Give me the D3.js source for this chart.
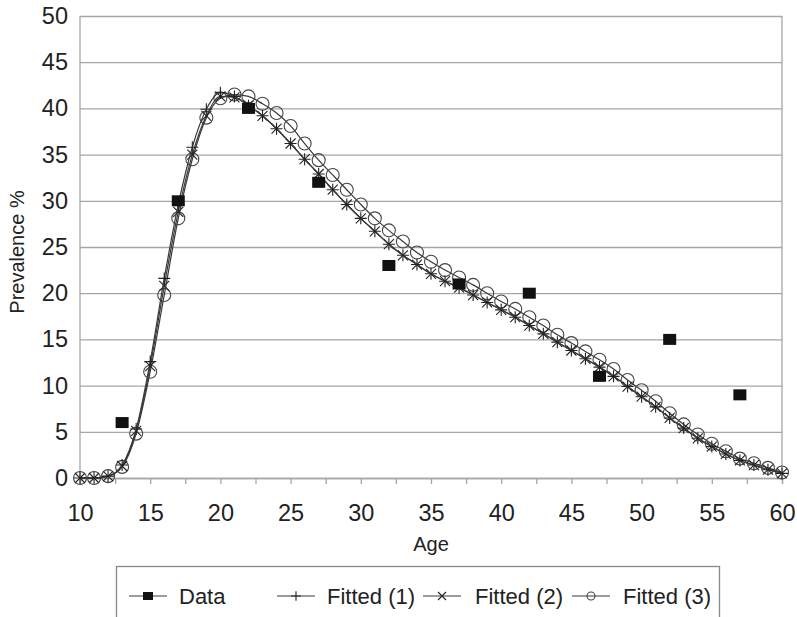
<!DOCTYPE html>
<html>
<head>
<meta charset="utf-8">
<script src="https://cdn.jsdelivr.net/npm/d3@7"></script>
<style>
  body { margin: 0; background: #fff; }
  svg { font-family: "Liberation Sans", Arial, sans-serif; }
</style>
</head>
<body>
<div id="vis"></div>
<script>
// setting up the basics
const FRAME_WIDTH = 797;
const FRAME_HEIGHT = 617;
const PLOT = {left: 80, right: 782, top: 16, bottom: 478};

// data
const AGES = d3.range(10, 61);
const DATA_AGES = [13, 17, 22, 27, 32, 37, 42, 47, 52, 57];
const DATA_VALUES = [6, 30, 40, 32, 23, 21, 20, 11, 15, 9];
const FITTED_1 = [0, 0, 0.2, 1.4, 5.3, 12.6, 21.6, 29.6, 35.8, 39.9, 41.7, 41.3, 40.3,
  39.2, 37.8, 36.2, 34.5, 32.9, 31.2, 29.6, 28.1, 26.7, 25.3, 24.1, 23.1, 22.1, 21.3,
  20.6, 19.8, 19.0, 18.2, 17.4, 16.5, 15.6, 14.7, 13.8, 12.9, 12.0, 11.0, 9.9, 8.8,
  7.7, 6.5, 5.4, 4.3, 3.4, 2.6, 1.9, 1.4, 0.9, 0.5];
const FITTED_2 = [0, 0, 0.2, 1.3, 5.1, 12.1, 20.8, 28.8, 35.0, 39.2, 41.3, 41.2, 40.3,
  39.2, 37.8, 36.2, 34.5, 32.9, 31.2, 29.6, 28.1, 26.7, 25.3, 24.1, 23.1, 22.1, 21.3,
  20.6, 19.8, 19.0, 18.2, 17.4, 16.5, 15.6, 14.7, 13.8, 12.9, 12.0, 11.0, 9.9, 8.8,
  7.7, 6.5, 5.4, 4.3, 3.4, 2.6, 1.9, 1.4, 0.9, 0.5];
const FITTED_3 = [0, 0, 0.2, 1.2, 4.8, 11.5, 19.8, 28.1, 34.5, 39.0, 41.1, 41.5, 41.3,
  40.5, 39.5, 38.1, 36.2, 34.4, 32.8, 31.2, 29.6, 28.1, 26.8, 25.6, 24.4, 23.4, 22.5,
  21.7, 20.9, 20.0, 19.1, 18.3, 17.4, 16.5, 15.5, 14.6, 13.7, 12.8, 11.8, 10.6, 9.5,
  8.3, 7.0, 5.8, 4.7, 3.7, 2.9, 2.1, 1.6, 1.1, 0.6];
const Y_TICKS = d3.range(0, 51, 5);
const X_TICKS = d3.range(10, 60.1, 2.5);
const LEGEND_LABELS = ['Data', 'Fitted (1)', 'Fitted (2)', 'Fitted (3)'];

const FRAME = d3.select('#vis')
  .append('svg')
    .attr('width', FRAME_WIDTH)
    .attr('height', FRAME_HEIGHT);

const X_SCALE = d3.scaleLinear().domain([10, 60]).range([PLOT.left, PLOT.right]);
const Y_SCALE = d3.scaleLinear().domain([0, 50]).range([PLOT.bottom, PLOT.top]);

const GRID = '#a6a6a6';
const LINE = '#3a3a3a';

// horizontal gridlines + y labels
const yAxis = FRAME.append('g')
  .attr('transform', 'translate(' + PLOT.left + ',0)')
  .call(d3.axisLeft(Y_SCALE).tickValues(Y_TICKS).tickSize(-(PLOT.right - PLOT.left)).tickPadding(12));
yAxis.select('.domain').remove();
yAxis.selectAll('line').attr('stroke', GRID).attr('stroke-width', 1.3);
yAxis.selectAll('text').attr('font-size', '23.5px').attr('fill', '#222');

// x axis
const xAxis = FRAME.append('g')
  .attr('transform', 'translate(0,' + PLOT.bottom + ')')
  .call(d3.axisBottom(X_SCALE).tickValues(X_TICKS).tickSize(6).tickPadding(20)
    .tickFormat((d) => (d % 5 === 0 ? d : '')));
xAxis.select('.domain').attr('stroke', GRID).attr('stroke-width', 1.3);
xAxis.selectAll('line').attr('stroke', GRID).attr('stroke-width', 1.3);
xAxis.selectAll('text').attr('font-size', '23.5px').attr('fill', '#222');

// left and right frame lines
FRAME.append('line')
  .attr('x1', PLOT.left).attr('x2', PLOT.left)
  .attr('y1', PLOT.top).attr('y2', PLOT.bottom)
  .attr('stroke', GRID).attr('stroke-width', 1.3);
FRAME.append('line')
  .attr('x1', PLOT.right).attr('x2', PLOT.right)
  .attr('y1', PLOT.top).attr('y2', PLOT.bottom)
  .attr('stroke', GRID).attr('stroke-width', 1.3);

// axis titles
FRAME.append('text')
  .attr('x', (PLOT.left + PLOT.right) / 2).attr('y', 551)
  .attr('text-anchor', 'middle').attr('font-size', '20px').attr('fill', '#222')
  .text('Age');
FRAME.append('text')
  .attr('transform', 'translate(24,' + 252 + ') rotate(-90)')
  .attr('text-anchor', 'middle').attr('font-size', '20px').attr('fill', '#222')
  .text('Prevalence %');

// marker drawing helpers
function drawMarker(g, type, x, y, legend) {
  const s = legend ? 0.8 : 1;
  if (type === 'square') {
    const w = (legend ? 10 : 13), h = (legend ? 8 : 11);
    g.append('rect').attr('x', x - w / 2).attr('y', y - h / 2)
      .attr('width', w).attr('height', h).attr('fill', '#111');
  } else if (type === 'plus') {
    const r = 6 * s;
    g.append('path').attr('d', 'M' + (x - r) + ',' + y + 'H' + (x + r) + 'M' + x + ',' + (y - r) + 'V' + (y + r))
      .attr('stroke', '#222').attr('stroke-width', 1.1).attr('fill', 'none');
  } else if (type === 'cross') {
    const r = 5 * s;
    g.append('path').attr('d', 'M' + (x - r) + ',' + (y - r) + 'L' + (x + r) + ',' + (y + r) +
        'M' + (x - r) + ',' + (y + r) + 'L' + (x + r) + ',' + (y - r))
      .attr('stroke', '#222').attr('stroke-width', 1.1).attr('fill', 'none');
  } else if (type === 'circle') {
    g.append('circle').attr('cx', x).attr('cy', y).attr('r', legend ? 4 : 6.5)
      .attr('stroke', '#444').attr('stroke-width', 1.1).attr('fill', 'none');
  }
}

const lineGen = d3.line()
  .x((d) => X_SCALE(d[0]))
  .y((d) => Y_SCALE(d[1]))
  .curve(d3.curveMonotoneX);

const SERIES = [
  {values: FITTED_3, marker: 'circle'},
  {values: FITTED_2, marker: 'cross'},
  {values: FITTED_1, marker: 'plus'}
];

SERIES.forEach((s) => {
  const pts = AGES.map((a, i) => [a, s.values[i]]);
  const g = FRAME.append('g');
  g.append('path').datum(pts)
    .attr('d', lineGen)
    .attr('fill', 'none').attr('stroke', LINE).attr('stroke-width', 1.2);
  pts.forEach((p) => drawMarker(g, s.marker, X_SCALE(p[0]), Y_SCALE(p[1]), false));
});

// data squares
const dataG = FRAME.append('g');
DATA_AGES.forEach((a, i) => drawMarker(dataG, 'square', X_SCALE(a), Y_SCALE(DATA_VALUES[i]), false));

// legend
const LEG = FRAME.append('g');
LEG.append('rect')
  .attr('x', 116.5).attr('y', 566.5).attr('width', 603).attr('height', 80)
  .attr('fill', 'none').attr('stroke', '#888').attr('stroke-width', 1.3);
const LEG_LINE_X = [129, 277, 423, 572];
const LEG_TEXT_X = [179, 327, 475, 623];
const LEG_MARK = ['square', 'plus', 'cross', 'circle'];
LEGEND_LABELS.forEach((lab, i) => {
  const y = 596;
  LEG.append('line')
    .attr('x1', LEG_LINE_X[i]).attr('x2', LEG_LINE_X[i] + 38)
    .attr('y1', y).attr('y2', y)
    .attr('stroke', LINE).attr('stroke-width', 1.2);
  drawMarker(LEG, LEG_MARK[i], LEG_LINE_X[i] + 19, y, true);
  LEG.append('text')
    .attr('x', LEG_TEXT_X[i]).attr('y', y).attr('dy', '0.36em')
    .attr('font-size', '22px').attr('fill', '#222')
    .text(lab);
});
</script>
</body>
</html>
